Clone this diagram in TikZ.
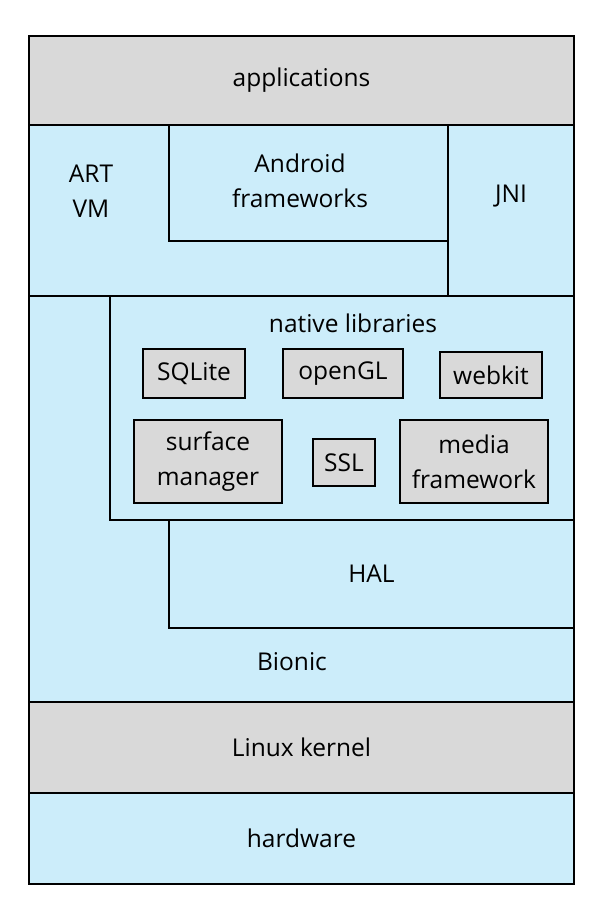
\documentclass[tikz,border=0pt]{standalone}
\usepackage{fontspec}
\setmainfont{Open Sans}
\definecolor{layerblue}{RGB}{204,237,250}
\definecolor{layergray}{RGB}{217,217,217}
\begin{document}
\begin{tikzpicture}[x=1pt,y=-1pt,
    label/.style={
        align=center,
        font=\fontsize{24.5}{35}\selectfont},
    layer/.style={
        rectangle,
        draw=black, line width=1.5pt,
        inner sep=0pt,
        label},
    lib/.style={
        layer,
        fill=layergray}
    ]

    \useasboundingbox (0,0) rectangle (603,921);
    \fill[layerblue] (29,36) rectangle (574,884);

    \node (apps) [lib, minimum width=545pt, minimum height=89pt] at (301.5,80.5) {applications};
    \node (frameworks) [layer, minimum width=279pt, minimum height=116pt] at (308.5,183) {};
    \node (frameworkslabel) [label] at (300,181) {Android\\frameworks};
    \node (art) [label] at (91,191) {ART\\VM};
    \node (jni) [label] at (511,196) {JNI};
    \draw[line width=1.5pt] (448,125) -- (448,296);
    \draw[line width=1.5pt] (29,296) -- (574,296);

    \node (native) [layer, minimum width=464pt, minimum height=224pt] at (342,408) {};
    \node (nativelabel) [label] at (353,323) {native libraries};
    \node (sqlite) [lib, minimum width=102pt, minimum height=49pt] at (194,373.5) {SQLite};
    \node (opengl) [lib, minimum width=120pt, minimum height=49pt] at (343,373.5) {openGL};
    \node (webkit) [lib, minimum width=102pt, minimum height=46pt] at (491,375) {webkit};
    \node (surface) [lib, minimum width=148pt, minimum height=83pt] at (208,461.5) {surface\\manager};
    \node (ssl) [lib, minimum width=62pt, minimum height=47pt] at (344,462.5) {SSL};
    \node (media) [lib, minimum width=148pt, minimum height=83pt] at (474,461.5) {media\\framework};

    \node (hal) [layer, minimum width=405pt, minimum height=108pt] at (371.5,574) {HAL};
    \node (bionic) [label] at (292,662) {Bionic};

    \node (kernel) [lib, minimum width=545pt, minimum height=91pt] at (301.5,747.5) {Linux kernel};
    \node (hardware) [layer, minimum width=545pt, minimum height=91pt] at (301.5,838.5) {hardware};
    \draw[line width=1.5pt] (29,36) rectangle (574,884);

\end{tikzpicture}
\end{document}
